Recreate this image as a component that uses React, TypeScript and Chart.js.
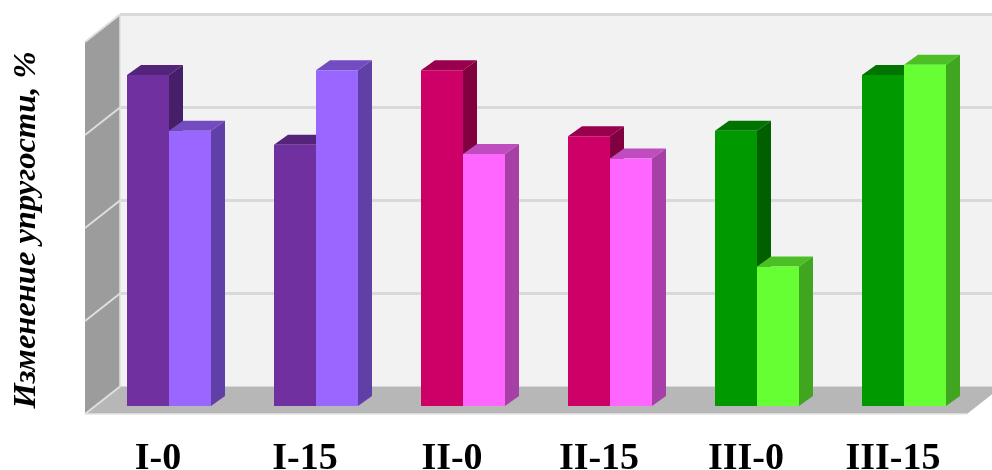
import React, { useEffect, useRef } from "react";
import { Chart, registerables } from "chart.js";

Chart.register(...registerables);

const categories = ["I-0", "I-15", "II-0", "II-15", "III-0", "III-15"];
const baseValues = [35.6, 28.1, 36.1, 29.0, 29.6, 35.6];
const treatedValues = [29.6, 36.1, 27.1, 26.6, 15.0, 36.7];
const gridStep = 10;
const axisMax = 40;
const axisTitle = "Изменение упругости, %";

const baseFront = ["#7030A0", "#7030A0", "#CC0066", "#CC0066", "#009900", "#009900"];
const baseTop = ["#53247A", "#53247A", "#99004D", "#99004D", "#007300", "#007300"];
const baseSide = ["#471F68", "#471F68", "#800040", "#800040", "#006000", "#006000"];
const treatedFront = ["#9966FF", "#9966FF", "#FF66FF", "#FF66FF", "#66FF33", "#66FF33"];
const treatedTop = ["#734DBF", "#734DBF", "#BF4DBF", "#BF4DBF", "#4DBF26", "#4DBF26"];
const treatedSide = ["#6040A6", "#6040A6", "#A640A6", "#A640A6", "#40A620", "#40A620"];

// Projection of the box: bar depth and the offsets of the walls from the bar plane.
const BAR_DX = 14;
const BAR_DY = 10;
const WALL_FRONT_DX = -10.5;
const WALL_FRONT_DY = 8;
const WALL_DX = 35;
const WALL_DY = 27.5;

function poly(ctx: CanvasRenderingContext2D, pts: number[][], fill: string) {
  ctx.beginPath();
  pts.forEach(([x, y], i) => (i ? ctx.lineTo(x, y) : ctx.moveTo(x, y)));
  ctx.closePath();
  ctx.fillStyle = fill;
  ctx.fill();
}

function stroke(ctx: CanvasRenderingContext2D, pts: number[][], color: string, width: number) {
  ctx.beginPath();
  pts.forEach(([x, y], i) => (i ? ctx.lineTo(x, y) : ctx.moveTo(x, y)));
  ctx.strokeStyle = color;
  ctx.lineWidth = width;
  ctx.stroke();
}

// Top and side faces of every bar in a dataset.
function drawBarDepth(chart: any, index: number) {
  const { ctx } = chart;
  const ds = chart.data.datasets[index];
  const meta = chart.getDatasetMeta(index);
  ctx.save();
  meta.data.forEach((bar: any, i: number) => {
    const l = bar.x - bar.width / 2;
    const r = bar.x + bar.width / 2;
    const t = bar.y;
    const b = bar.base;
    poly(ctx, [[l, t], [l + BAR_DX, t - BAR_DY], [r + BAR_DX, t - BAR_DY], [r, t]], ds.topColors[i]);
    poly(ctx, [[r, t], [r + BAR_DX, t - BAR_DY], [r + BAR_DX, b - BAR_DY], [r, b]], ds.sideColors[i]);
  });
  ctx.restore();
}

// Walls, floor and gridlines of the box, placed through the chart's scales.
const boxPlugin = {
  id: "box",
  beforeDatasetsDraw(chart: any) {
    const { ctx, scales } = chart;
    const xs = scales.x;
    const ys = scales.y;
    const fl = xs.left + WALL_FRONT_DX;
    const fr = xs.right + WALL_FRONT_DX;
    const fb = ys.getPixelForValue(0) + WALL_FRONT_DY;
    const ft = ys.getPixelForValue(axisMax) + WALL_FRONT_DY;
    const bl = fl + WALL_DX;
    const br = fr + WALL_DX;
    ctx.save();
    poly(ctx, [[bl, ft - WALL_DY], [br, ft - WALL_DY], [br, fb - WALL_DY], [bl, fb - WALL_DY]], "#F2F2F2");
    poly(ctx, [[fl, ft], [bl, ft - WALL_DY], [bl, fb - WALL_DY], [fl, fb]], "#9C9C9C");
    poly(ctx, [[fl, fb], [bl, fb - WALL_DY], [br, fb - WALL_DY], [fr, fb]], "#B7B7B7");
    for (const tick of ys.ticks) {
      const y = ys.getPixelForValue(tick.value) + WALL_FRONT_DY;
      if (tick.value > 0) {
        stroke(ctx, [[bl, y - WALL_DY], [br, y - WALL_DY]], "#D9D9D9", 3);
      }
      stroke(ctx, [[fl, y], [bl, y - WALL_DY]], "#DEDEDE", 2);
    }
    stroke(ctx, [[fl, fb], [fr, fb]], "#E4E4E4", 1.5);
    stroke(ctx, [[bl, ft - WALL_DY], [bl, fb - WALL_DY]], "#E0E0E0", 1.5);
    ctx.restore();
  },
  // The right-hand bar of each pair overlaps the left-hand one, so the second
  // dataset is held back and painted after the first.
  beforeDatasetDraw(chart: any, args: any) {
    if (args.index === 1) return false;
    drawBarDepth(chart, args.index);
    return true;
  },
  afterDatasetDraw(chart: any, args: any) {
    if (args.index === 0) {
      drawBarDepth(chart, 1);
      chart.getDatasetMeta(1).controller.draw();
    }
  },
  afterDraw(chart: any) {
    const { ctx } = chart;
    ctx.save();
    ctx.translate(27, 230);
    ctx.rotate(-Math.PI / 2);
    ctx.font = "italic bold 32.5px 'Liberation Serif'";
    ctx.fillStyle = "#000000";
    ctx.textAlign = "center";
    ctx.textBaseline = "middle";
    ctx.fillText(axisTitle, 0, 0);
    ctx.restore();
  },
};

export default function App() {
  const ref = useRef<HTMLCanvasElement>(null);
  useEffect(() => {
    const chart = new Chart(ref.current!, {
      type: "bar",
      plugins: [boxPlugin],
      data: {
        labels: categories,
        datasets: [
          {
            data: baseValues,
            backgroundColor: baseFront,
            topColors: baseTop,
            sideColors: baseSide,
          } as any,
          {
            data: treatedValues,
            backgroundColor: treatedFront,
            topColors: treatedTop,
            sideColors: treatedSide,
          } as any,
        ],
      },
      options: {
        responsive: false,
        animation: false,
        layout: { padding: { left: 95.5, right: 14.5, top: 34, bottom: 0 } },
        plugins: { legend: { display: false }, title: { display: false }, tooltip: { enabled: false } },
        datasets: { bar: { categoryPercentage: 4 / 7, barPercentage: 1, borderWidth: 0 } },
        scales: {
          x: {
            grid: { display: false, drawTicks: false },
            border: { display: false },
            afterFit: (scale: any) => {
              scale.height = 64;
            },
            ticks: {
              autoSkip: false,
              maxRotation: 0,
              minRotation: 0,
              padding: 30,
              labelOffset: -11,
              color: "#000000",
              font: { family: "'Liberation Serif'", weight: "bold", size: 38 },
            },
          },
          y: {
            display: false,
            min: 0,
            max: axisMax,
            ticks: { stepSize: gridStep },
          },
        },
      } as any,
    });
    return () => chart.destroy();
  }, []);
  return (
    <div style={{ position: "absolute", left: 0, top: 0, width: 992, height: 470, background: "#FFFFFF" }}>
      <canvas ref={ref} width={992} height={470} style={{ display: "block" }} />
    </div>
  );
}
